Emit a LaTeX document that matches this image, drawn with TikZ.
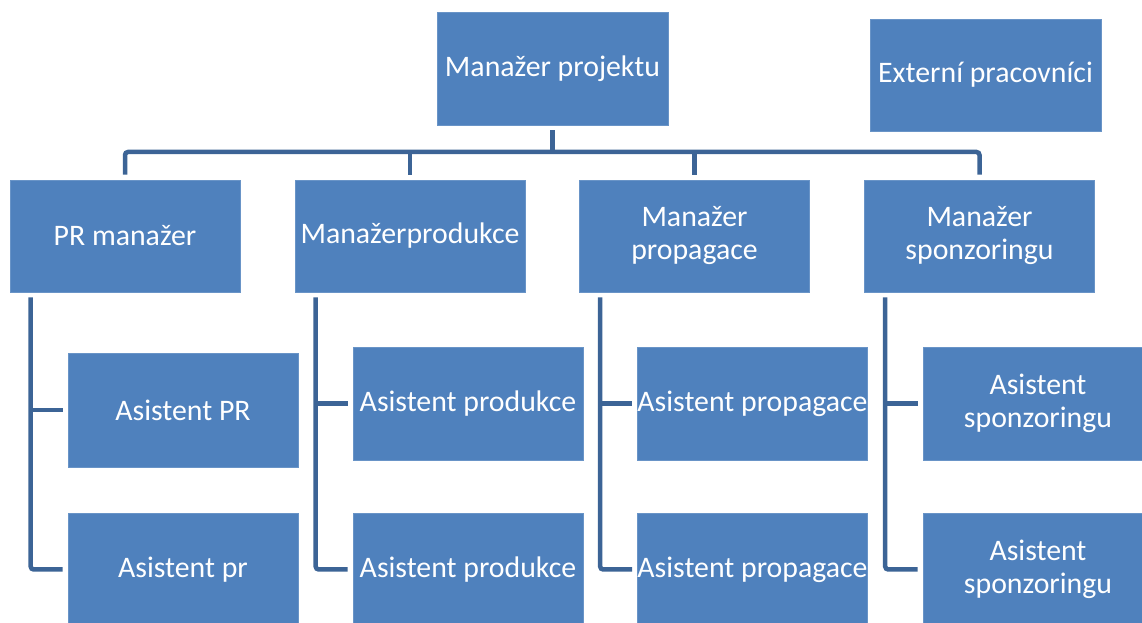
\documentclass[tikz,border=0pt]{standalone}
\usepackage{fontspec}
\setmainfont{Carlito}
\definecolor{boxblue}{RGB}{79,129,189}
\definecolor{lineblue}{RGB}{60,100,150}
\tikzset{
  x=1pt,y=1pt,
  orgbox/.style={fill=boxblue, draw=boxblue!85!white, line width=0.6pt, text=white,
    minimum width=230pt, minimum height=113pt, inner sep=0pt, align=center,
    font=\fontsize{29.8}{33}\selectfont},
  conn/.style={draw=lineblue, line width=4.5pt, rounded corners=3pt}
}
\begin{document}
\begin{tikzpicture}
\useasboundingbox (0,0) rectangle (1142,623);
\clip (0,0) rectangle (1142,623);
\fill[white] (0,0) rectangle (1142,623);
% top level
\node[orgbox, minimum width=231pt] (top) at (552.5,554.5) {Manažer projektu};
\node[orgbox, minimum width=231pt, minimum height=112pt] (ext) at (985.5,548) {Externí pracovníci};
% managers
\node[orgbox, minimum height=112pt] (m1) at (125,387) {PR manažer};
\node[orgbox, minimum height=112pt] (m2) at (410,387) {Manažerprodukce};
\node[orgbox, minimum height=112pt] (m3) at (694.5,387) {Manažer\\propagace};
\node[orgbox, minimum height=112pt] (m4) at (979.5,387) {Manažer\\sponzoringu};
% assistants
\node[orgbox, minimum height=114pt] (a11) at (183,213) {Asistent PR};
\node[orgbox] (a12) at (183,53.5) {Asistent pr};
\node[orgbox] (a21) at (468,219.5) {Asistent produkce};
\node[orgbox] (a22) at (468,53.5) {Asistent produkce};
\node[orgbox] (a31) at (752.5,219.5) {Asistent propagace};
\node[orgbox] (a32) at (752.5,53.5) {Asistent propagace};
\node[orgbox] (a41) at (1038,219.5) {Asistent\\sponzoringu};
\node[orgbox] (a42) at (1038,53.5) {Asistent\\sponzoringu};
% bus
\coordinate (bus) at (552,471);
\draw[conn] ([yshift=-5pt]top.south) -- (top.south |- bus);
\draw[conn] ([yshift=5pt]m1.north) |- (m4.north |- bus) -- ([yshift=5pt]m4.north);
\draw[conn] (m2.north |- bus) -- ([yshift=5pt]m2.north);
\draw[conn] (m3.north |- bus) -- ([yshift=5pt]m3.north);
% columns
\foreach \c in {1,2,3,4}{
  \coordinate (c\c) at ([xshift=21pt,yshift=-5pt]m\c.south west);
  \draw[conn] (c\c) |- ([xshift=-5pt]a\c2.west);
  \draw[conn, rounded corners=0pt] (c\c |- a\c1.west) -- ([xshift=-5pt]a\c1.west);
}
\end{tikzpicture}
\end{document}
